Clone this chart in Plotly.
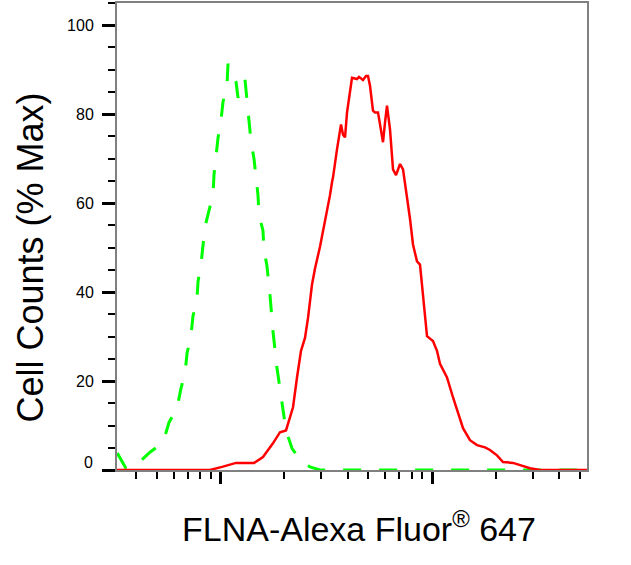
import plotly.graph_objects as go

# Control (isotype) histogram - green dashed
ctrl_x = [325, 357, 403, 464, 535, 571, 623, 650, 680, 695, 725, 741, 774, 783, 809,
          826, 845, 882, 922, 932, 952, 973, 1005, 1028, 1073, 1085, 1184, 1210, 1306,
          1335, 1364, 1394, 1441, 1472, 1504, 1521, 1588, 1606, 1659, 1714, 1770, 1849,
          1954, 2040, 2178, 2377, 2650, 2954, 55000]
ctrl_y = [3.8, 0.4, 1.3, 4.0, 6.2, 10.7, 14.0, 18.3, 21.9, 26.3, 30.1, 34.6, 38.4, 42.4, 46.4,
          50.7, 54.7, 58.3, 62.0, 66.5, 70.1, 74.6, 78.6, 82.8, 86.4, 91.3, 87.3, 83.7, 87.7,
          82.6, 78.1, 73.9, 69.9, 65.6, 61.8, 57.4, 53.8, 49.6, 45.8, 39.3, 31.3, 23.0,
          14.7, 8.9, 4.9, 2.2, 0.7, 0.0, 0.0]

# FLNA stained histogram - red solid
flna_x = [324, 892, 1017, 1184, 1441, 1588, 1770, 1911, 2040, 2085, 2202, 2300, 2402, 2509,
          2593, 2708, 2798, 2954, 3120, 3294, 3367, 3404, 3555, 3634, 3714, 3796, 3880,
          3965, 4096, 4186, 4420, 4517, 4718, 4874, 4982, 5092, 5260, 5377, 5555, 5802,
          5866, 5995, 6127, 6331, 6541, 6759, 7060, 7294, 7619, 7870, 8132, 8494, 8776,
          8969, 9267, 9472, 10109, 10559, 10910, 11774, 12573, 13275, 14019, 15122, 16326,
          17808, 18803, 20293, 21663, 24155, 26935, 29077, 32399, 55000]
flna_y = [0.0, 0.0, 0.7, 1.6, 1.6, 2.9, 6.0, 8.5, 8.9, 10.5, 14.1, 20.8, 26.8, 29.7,
          34.2, 41.7, 45.3, 50.2, 55.8, 61.8, 64.7, 65.8, 72.1, 75.4, 77.7, 75.4, 74.8,
          80.4, 85.5, 88.2, 87.9, 88.4, 87.7, 88.6, 88.6, 86.4, 80.8, 80.4, 80.4, 74.3,
          73.7, 78.1, 81.9, 76.6, 67.6, 66.3, 68.8, 67.6, 61.8, 56.5, 50.7, 46.9, 46.2,
          41.7, 35.7, 30.1, 29.0, 26.8, 23.9, 20.8, 16.3, 12.7, 9.4, 6.7, 5.6,
          5.1, 4.5, 3.3, 1.8, 1.6, 0.9, 0.4, 0.0, 0.0]

y_ticks = [0, 20, 40, 60, 80, 100]
y_ticktext = ["", "20", "40", "60", "80", "100"]
x_major = [1000, 10000]
x_minor = [400, 500, 600, 700, 800, 900, 2000, 3000, 4000, 5000, 6000, 7000, 8000, 9000,
           20000, 30000, 40000, 50000]
x_title = "FLNA-Alexa Fluor<sup>®</sup> 647"
y_title = "Cell Counts (% Max)"

fig = go.Figure()
fig.add_trace(go.Scatter(x=ctrl_x, y=ctrl_y, mode="lines",
                         line=dict(color="#00ff00", width=3, dash="18px,18px")))
fig.add_trace(go.Scatter(x=flna_x, y=flna_y, mode="lines",
                         line=dict(color="#ff0000", width=2.5)))

font = "Liberation Sans, Arial, sans-serif"
fig.update_layout(
    width=631, height=565,
    margin=dict(l=117, r=44, t=1, b=95),
    paper_bgcolor="white", plot_bgcolor="white",
    showlegend=False,
    font=dict(family=font, color="black"),
    xaxis=dict(type="log", range=[2.5106, 4.7329],
               tickmode="array", tickvals=x_major, showticklabels=False,
               ticks="outside", ticklen=12, tickwidth=3, tickcolor="black",
               minor=dict(tickmode="array", tickvals=x_minor, ticks="outside",
                          ticklen=7, tickwidth=2, tickcolor="black"),
               showline=True, linecolor="#808080", linewidth=2, mirror=True,
               showgrid=False, zeroline=False),
    yaxis=dict(range=[0, 105], tickmode="array", tickvals=y_ticks, ticktext=y_ticktext,
               ticks="outside", ticklen=13, tickwidth=3, tickcolor="black",
               ticklabelstandoff=5,
               tickfont=dict(size=16, family=font, color="black"),
               minor=dict(dtick=5, ticks="outside", ticklen=7, tickwidth=2, tickcolor="black"),
               showline=True, linecolor="#808080", linewidth=2, mirror=True,
               showgrid=False, zeroline=False),
    annotations=[
        dict(text="0", xref="paper", yref="y", x=0, y=1.6, xanchor="right",
             yanchor="middle", xshift=-22, showarrow=False,
             font=dict(size=16, family=font, color="black")),
        dict(text=x_title, xref="paper", yref="paper", x=0.514, y=-0.121,
             xanchor="center", yanchor="middle", showarrow=False,
             font=dict(size=34, family=font, color="black")),
        dict(text=y_title, xref="paper", yref="paper", x=-0.185, y=0.455,
             xanchor="center", yanchor="middle", textangle=-90, showarrow=False,
             font=dict(size=36, family=font, color="black")),
    ],
)
fig.write_html("out.html")
